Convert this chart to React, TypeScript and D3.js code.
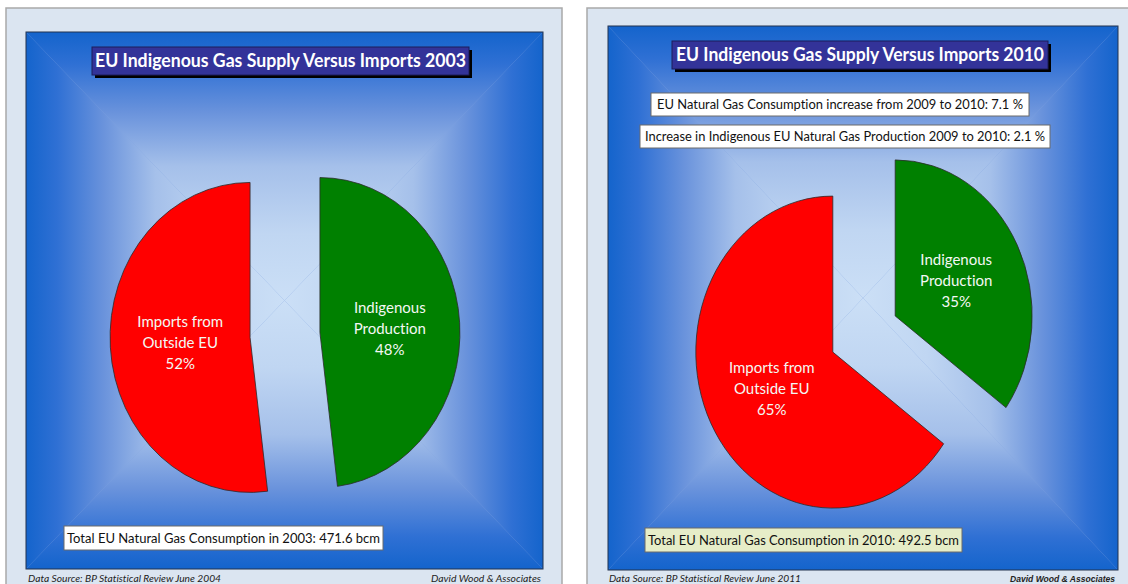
import React from "react";
import * as d3 from "d3";

// ---------- data ----------
const sliceNames = ["Indigenous Production", "Imports from Outside EU"];
const sliceLabelLines = [["Indigenous", "Production"], ["Imports from", "Outside EU"]];
const sliceColors = ["#008000", "#ff0000"];
const years = [2003, 2010];
const values2003 = [48, 52];
const values2010 = [35, 65];
const totalsBcm = [471.6, 492.5];
const sourceNotes = [
  "Data Source: BP Statistical Review June 2004",
  "Data Source: BP Statistical Review June 2011",
];
const notes2010 = [
  "EU Natural Gas Consumption increase from 2009 to 2010: 7.1 %",
  "Increase in Indigenous EU Natural Gas Production 2009 to 2010: 2.1 %",
];
const credit = "David Wood & Associates";

const FONT = "Lato, 'Open Sans', sans-serif";

type Box = { x: number; y: number; w: number; h: number };
type TextBox = { box: Box; text: string; tl: number; base: number; fill: string };

interface PanelCfg {
  id: string;
  frame: Box;
  inner: Box;
  titleBox: Box;
  titleBase: number;
  titleTL: number;
  title: string;
  cx: number;
  cy: number;
  rx: number;
  ry: number;
  explode: number;
  values: number[];
  notes: TextBox[];
  total: TextBox;
  srcX: number;
  srcTL: number;
  creditEnd: number;
  creditTL: number;
  creditBold: boolean;
}

const ramp = [
  { o: 0, c: "#1464cc" },
  { o: 0.12, c: "#2f70d4" },
  { o: 0.3, c: "#6a93dc" },
  { o: 0.5, c: "#a5c0ea" },
  { o: 0.75, c: "#c0d6f2" },
  { o: 1, c: "#cbdff6" },
];

function Backdrop({ id, b }: { id: string; b: Box }) {
  const cx = b.x + b.w / 2;
  const cy = b.y + b.h / 2;
  const L = b.x, R = b.x + b.w, T = b.y, B = b.y + b.h;
  const tris = [
    { k: "t", pts: `${L},${T} ${R},${T} ${cx},${cy}`, g: [cx, T, cx, cy] },
    { k: "b", pts: `${L},${B} ${R},${B} ${cx},${cy}`, g: [cx, B, cx, cy] },
    { k: "l", pts: `${L},${T} ${L},${B} ${cx},${cy}`, g: [L, cy, cx, cy] },
    { k: "r", pts: `${R},${T} ${R},${B} ${cx},${cy}`, g: [R, cy, cx, cy] },
  ];
  return (
    <g>
      <defs>
        {tris.map((t) => (
          <linearGradient
            key={t.k}
            id={`${id}-${t.k}`}
            gradientUnits="userSpaceOnUse"
            x1={t.g[0]}
            y1={t.g[1]}
            x2={t.g[2]}
            y2={t.g[3]}
          >
            {ramp.map((s) => (
              <stop key={s.o} offset={s.o} stopColor={s.c} />
            ))}
          </linearGradient>
        ))}
      </defs>
      <rect x={b.x} y={b.y} width={b.w} height={b.h} fill="#7fa2df" />
      {tris.map((t) => (
        <polygon key={t.k} points={t.pts} fill={`url(#${id}-${t.k})`} />
      ))}
      <rect x={b.x} y={b.y} width={b.w} height={b.h} fill="none" stroke="#22324f" strokeWidth={1} />
    </g>
  );
}

function Panel({ c }: { c: PanelCfg }) {
  const pie = d3.pie<number>().sort(null).value((d) => d);
  const arcs = pie(c.values);
  const arc = d3.arc<d3.PieArcDatum<number>>().innerRadius(0).outerRadius(c.rx);
  const sy = c.ry / c.rx;
  const total = d3.sum(c.values);
  const fmtPct = (v: number) => `${Math.round((v / total) * 100)}%`;

  return (
    <g>
      <rect x={c.frame.x} y={c.frame.y} width={c.frame.w} height={c.frame.h} fill="#dbe5f1" stroke="#a9a9a9" strokeWidth={1.5} />
      <Backdrop id={c.id} b={c.inner} />

      {/* title */}
      <rect x={c.titleBox.x + 3} y={c.titleBox.y + 3} width={c.titleBox.w} height={c.titleBox.h} fill="#000" />
      <rect x={c.titleBox.x} y={c.titleBox.y} width={c.titleBox.w} height={c.titleBox.h} fill="#333399" stroke="#1d1d5a" strokeWidth={1} />
      <text
        x={c.titleBox.x + c.titleBox.w / 2}
        y={c.titleBase}
        textAnchor="middle"
        fill="#ffffff"
        fontFamily={FONT}
        fontWeight={700}
        fontSize={18.5}
        textLength={c.titleTL}
        lengthAdjust="spacingAndGlyphs"
      >
        {c.title}
      </text>

      {/* notes */}
      {c.notes.concat([c.total]).map((n, i) => (
        <g key={i}>
          <rect x={n.box.x} y={n.box.y} width={n.box.w} height={n.box.h} fill={n.fill} stroke="#6b6b6b" strokeWidth={1} />
          <text
            x={n.box.x + n.box.w / 2}
            y={n.base}
            textAnchor="middle"
            fill="#111"
            fontFamily={FONT}
            fontSize={13.5}
            textLength={n.tl}
            lengthAdjust="spacingAndGlyphs"
          >
            {n.text}
          </text>
        </g>
      ))}

      {/* pie */}
      {arcs.map((a, i) => {
        const mid = (a.startAngle + a.endAngle) / 2;
        const ox = Math.sin(mid) * c.explode;
        const oy = -Math.cos(mid) * c.explode;
        const [lx, ly] = arc.centroid(a);
        const px = c.cx + ox + lx;
        const py = c.cy + (oy + ly) * sy;
        const lines = [...sliceLabelLines[i], fmtPct(a.value)];
        return (
          <g key={sliceNames[i]}>
            <path
              d={arc(a) || ""}
              transform={`translate(${c.cx},${c.cy}) scale(1,${sy}) translate(${ox},${oy})`}
              fill={sliceColors[i]}
              stroke="#2b2b2b"
              strokeWidth={0.8}
              vectorEffect="non-scaling-stroke"
            />
            <text textAnchor="middle" fill="#f4f8f4" fontFamily={FONT} fontSize={15}>
              {lines.map((l, j) => (
                <tspan key={j} x={px} y={py - 15 + j * 21}>
                  {l}
                </tspan>
              ))}
            </text>
          </g>
        );
      })}

      {/* footer */}
      <text x={c.srcX} y={582} fontFamily={FONT} fontStyle="italic" fontSize={10} fill="#222" textLength={c.srcTL} lengthAdjust="spacingAndGlyphs">
        {sourceNotes[c.id === "p2003" ? 0 : 1]}
      </text>
      <text
        x={c.creditEnd}
        y={582}
        textAnchor="end"
        fontFamily={c.creditBold ? "'Liberation Sans', Arial, sans-serif" : FONT}
        fontStyle="italic"
        fontWeight={c.creditBold ? 700 : 400}
        fontSize={c.creditBold ? 9.5 : 10}
        fill="#222"
        textLength={c.creditTL}
        lengthAdjust="spacingAndGlyphs"
      >
        {credit}
      </text>
    </g>
  );
}

const panels: PanelCfg[] = [
  {
    id: "p2003",
    frame: { x: 6, y: 8, w: 556, h: 590 },
    inner: { x: 26, y: 32, w: 517, h: 537 },
    titleBox: { x: 92, y: 47, w: 377, h: 28 },
    titleBase: 67,
    titleTL: 371,
    title: `EU Indigenous Gas Supply Versus Imports ${years[0]}`,
    cx: 285,
    cy: 335,
    rx: 140,
    ry: 155,
    explode: 35,
    values: values2003,
    notes: [],
    total: {
      box: { x: 64, y: 526, w: 319, h: 24 },
      text: `Total EU Natural Gas Consumption in ${years[0]}: ${totalsBcm[0]} bcm`,
      tl: 313,
      base: 543,
      fill: "#ffffff",
    },
    srcX: 28,
    srcTL: 193,
    creditEnd: 541,
    creditTL: 110,
    creditBold: false,
  },
  {
    id: "p2010",
    frame: { x: 587, y: 8, w: 560, h: 590 },
    inner: { x: 608, y: 26, w: 510, h: 544 },
    titleBox: { x: 672, y: 41, w: 376, h: 28 },
    titleBase: 61,
    titleTL: 368,
    title: `EU Indigenous Gas Supply Versus Imports ${years[1]}`,
    cx: 864,
    cy: 334,
    rx: 137,
    ry: 156,
    explode: 35,
    values: values2010,
    notes: [
      { box: { x: 651, y: 93, w: 378, h: 23 }, text: notes2010[0], tl: 366, base: 109, fill: "#ffffff" },
      { box: { x: 640, y: 125, w: 410, h: 23 }, text: notes2010[1], tl: 400, base: 141, fill: "#ffffff" },
    ],
    total: {
      box: { x: 645, y: 528, w: 317, h: 24 },
      text: `Total EU Natural Gas Consumption in ${years[1]}: ${totalsBcm[1]} bcm`,
      tl: 311,
      base: 545,
      fill: "#e6edc8",
    },
    srcX: 609,
    srcTL: 192,
    creditEnd: 1115,
    creditTL: 105,
    creditBold: true,
  },
];

export default function App() {
  return (
    <svg
      width={1128}
      height={584}
      viewBox="0 0 1128 584"
      style={{
        position: "absolute",
        left: 0,
        top: 0,
        background: "#ffffff",
        fontVariantLigatures: "none",
        fontFeatureSettings: '"liga" 0, "clig" 0',
      }}
    >
      <rect x={0} y={0} width={1128} height={584} fill="#ffffff" />
      {panels.map((p) => (
        <Panel key={p.id} c={p} />
      ))}
    </svg>
  );
}
